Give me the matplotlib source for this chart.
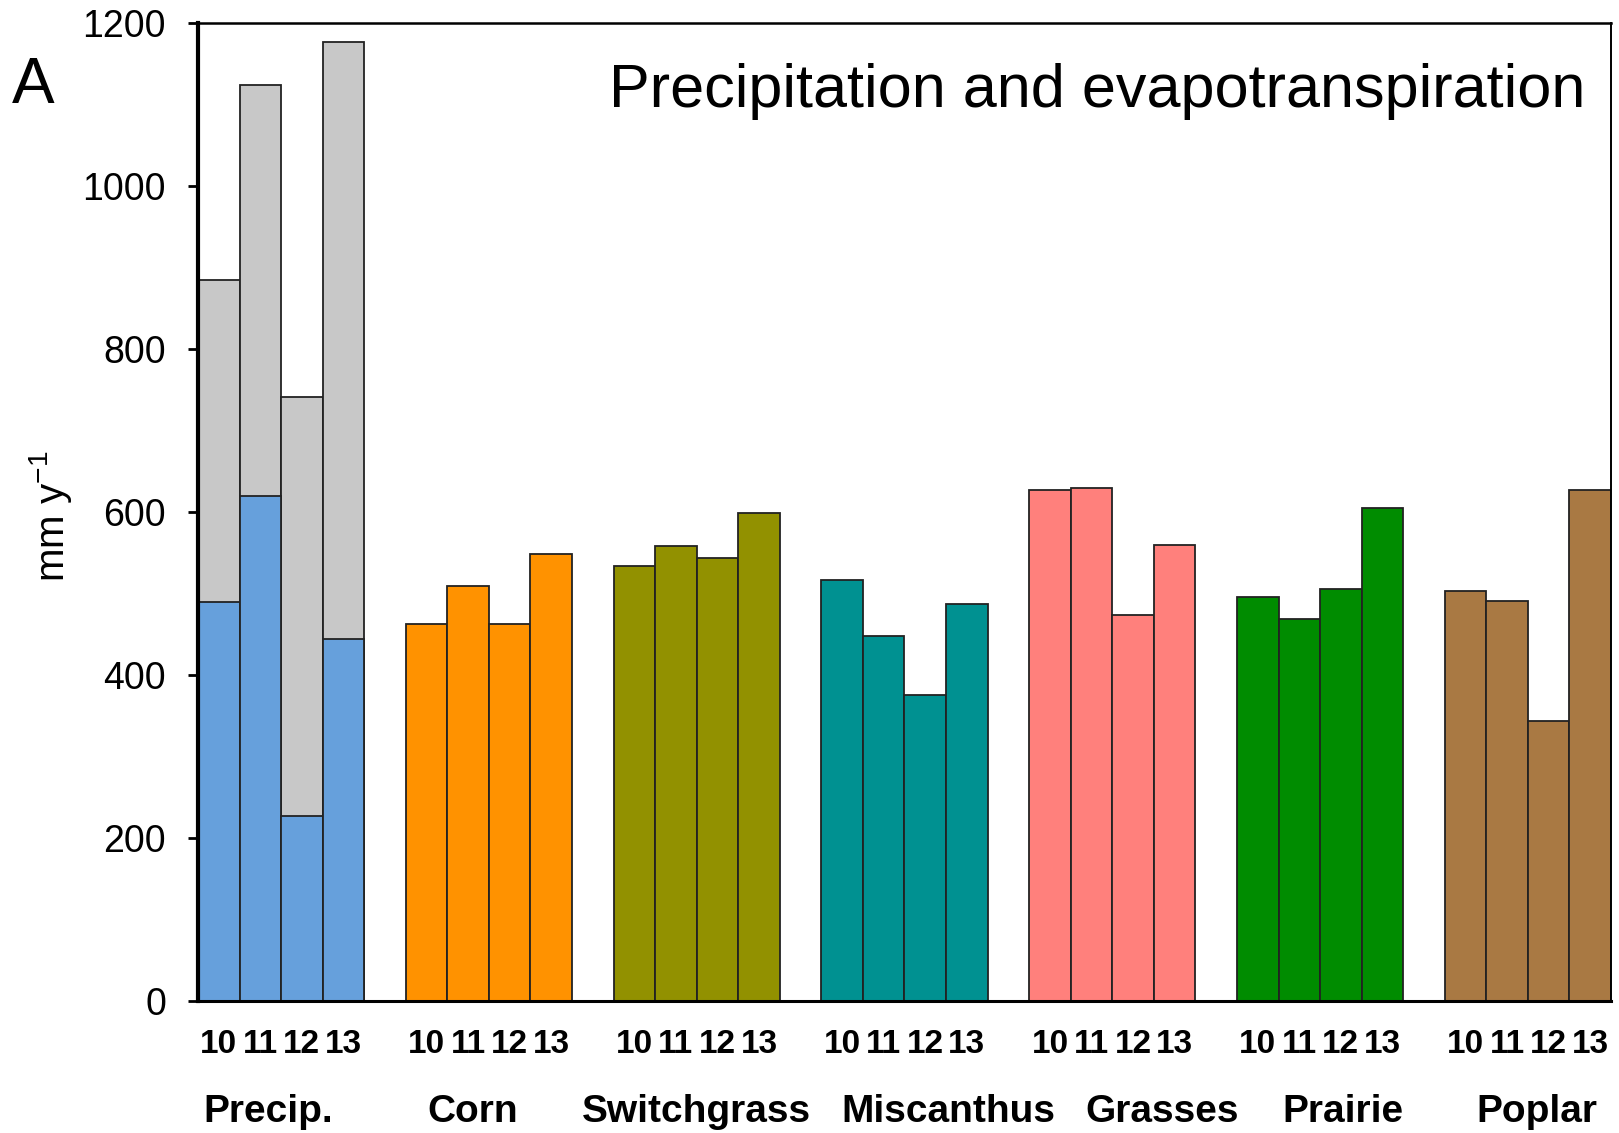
import matplotlib.pyplot as plt
from matplotlib import transforms

# annual values, mm per year
years = ['10', '11', '12', '13']
groups = ['Precip.', 'Corn', 'Switchgrass', 'Miscanthus', 'Grasses', 'Prairie', 'Poplar']

precip_total = [885, 1123, 741, 1176]
precip_season = [490, 620, 227, 444]

corn = [462, 509, 463, 548]
switchgrass = [533, 558, 544, 599]
miscanthus = [516, 448, 375, 487]
grasses = [627, 629, 473, 559]
prairie = [495, 468, 505, 605]
poplar = [503, 491, 344, 627]

crop_series = [corn, switchgrass, miscanthus, grasses, prairie, poplar]
crop_colors = ['#FF9200', '#929100', '#009191', '#FF807C', '#008C00', '#A97943']
precip_color = '#66A0DC'
total_color = '#C8C8C8'

# group name nudges (in bar widths)
label_shift = [-0.3, -0.4, 0.0, 1.05, 1.2, 0.55, 0.22]

plt.rcParams['font.family'] = ['Liberation Sans', 'DejaVu Sans']
plt.rcParams['mathtext.default'] = 'regular'

fig = plt.figure(figsize=(16.19, 11.33), dpi=100)
ax = fig.add_axes([198 / 1619, 1 - 1001 / 1133, (1611 - 198) / 1619, (1001 - 22.7) / 1133])

step = len(years) + 1
edge = dict(edgecolor='#222222', linewidth=1.3)

# precipitation: total in grey, growing-season part in blue
px = [i for i in range(len(years))]
ax.bar(px, precip_total, width=1, align='edge', color=total_color, **edge)
ax.bar(px, precip_season, width=1, align='edge', color=precip_color, **edge)

for g, (vals, col) in enumerate(zip(crop_series, crop_colors), start=1):
    xs = [g * step + i for i in range(len(years))]
    ax.bar(xs, vals, width=1, align='edge', color=col, **edge)

ax.set_xlim(0, len(groups) * step - 1)
ax.set_ylim(0, 1200)
ax.set_yticks(range(0, 1201, 200))

centers = [g * step + i + 0.5 for g in range(len(groups)) for i in range(len(years))]
ax.set_xticks(centers)
ax.set_xticklabels(years * len(groups))
for lab in ax.get_xticklabels():
    lab.set_family(['Liberation Sans Narrow', 'Liberation Sans'])
    lab.set_fontweight('bold')
    lab.set_fontsize(24)
ax.tick_params(axis='x', length=0, pad=20)
ax.tick_params(axis='y', length=7, width=2, pad=16, labelsize=27, direction='out')

ax.spines['left'].set_linewidth(3)
ax.spines['bottom'].set_linewidth(2.2)
ax.spines['top'].set_linewidth(1.8)
ax.spines['right'].set_linewidth(1.4)

trans = transforms.blended_transform_factory(ax.transData, ax.transAxes)
for g, name in enumerate(groups):
    cx = g * step + len(years) / 2 + label_shift[g]
    ax.text(cx, -0.1135, name, transform=trans, ha='center', va='center',
            fontsize=28, fontweight='bold')

ax.text(0.9816, 0.930, 'Precipitation and evapotranspiration', transform=ax.transAxes,
        ha='right', va='center', fontsize=44)

fig.text(12 / 1619, 1 - 86 / 1133, 'A', ha='left', va='center', fontsize=46)
fig.text(50 / 1619, 1 - 516 / 1133, 'mm y$^{-1}$', ha='center', va='center',
         rotation=90, fontsize=29)

fig.savefig('out.png', dpi=100)
